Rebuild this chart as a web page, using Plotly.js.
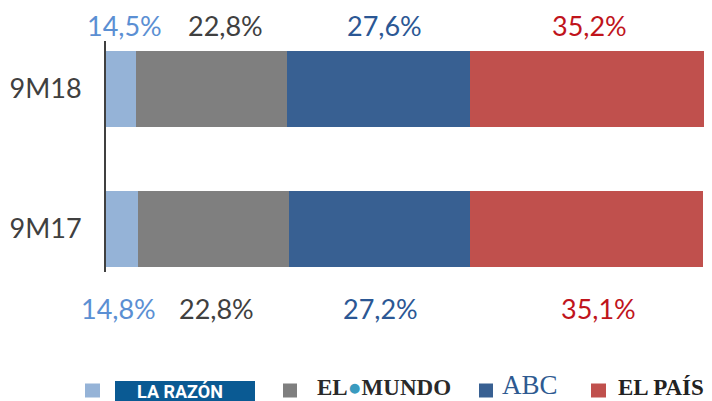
<!DOCTYPE html>
<html>
<head>
<meta charset="utf-8">
<script src="https://cdn.plot.ly/plotly-3.0.1.min.js"></script>
<style>html,body{margin:0;padding:0;background:#fff;}#chart{width:712px;height:401px;}</style>
</head>
<body>
<div id="chart"></div>
<script>
// Data
const periods = ['9M17', '9M18'];
const seriesNames = ['LA RAZÓN', 'EL MUNDO', 'ABC', 'EL PAÍS'];
const laRazon = [14.8, 14.5];
const elMundo = [22.8, 22.8];
const abc = [27.2, 27.6];
const elPais = [35.1, 35.2];
const labels9M17 = ['14,8%', '22,8%', '27,2%', '35,1%'];
const labels9M18 = ['14,5%', '22,8%', '27,6%', '35,2%'];

const series = [laRazon, elMundo, abc, elPais];
const barColors = ['#95B3D7', '#7F7F7F', '#386092', '#C0504D'];
const textColors = ['#5B8FD3', '#404040', '#2B5794', '#C0141B'];
const FONT = 'Lato, "Open Sans", sans-serif';
const X_MIN = 10;

const traces = series.map((vals, i) => ({
  type: 'bar', orientation: 'h', name: seriesNames[i],
  y: periods, x: vals,
  marker: {color: barColors[i], line: {width: 0}},
  width: 0.543, hoverinfo: 'x+name', showlegend: false
}));

// plot area in pixels
const L = 106, R = 704, T = 41, B = 272;
const px = x => (x - L) / (R - L);
const py = y => (B - y) / (B - T);

const annotations = [];
const shifts18 = [4, 14, 6, 2];
const shifts17 = [-3, 3, 1, 12];
function addLabels(pi, labels, shifts, yshift) {
  let cum = 0;
  series.forEach((vals, i) => {
    const start = Math.max(cum, X_MIN);
    cum += vals[pi];
    annotations.push({
      x: (start + cum) / 2,
      y: periods[pi], xref: 'x', yref: 'y',
      text: labels[i], showarrow: false, xshift: shifts[i], yshift: yshift,
      font: {family: FONT, size: 27, color: textColors[i]}
    });
  });
}
addLabels(1, labels9M18, shifts18, 64);
addLabels(0, labels9M17, shifts17, -79);

// legend
const legBottom = py(401);
const squares = [[85, 100], [283, 297], [479, 493], [591, 606]];
const shapes = squares.map((s, i) => ({
  type: 'rect', xref: 'paper', yref: 'paper',
  x0: px(s[0]), x1: px(s[1]), y0: py(397.5), y1: py(383.5),
  fillcolor: barColors[i], line: {width: 0}
}));
shapes.push({type: 'rect', xref: 'paper', yref: 'paper', x0: px(115), x1: px(255), y0: py(401), y1: py(381),
  fillcolor: '#0A5A93', line: {width: 0}});

annotations.push({xref: 'paper', yref: 'paper', x: px(180), y: py(391), xanchor: 'center', yanchor: 'middle',
  text: '<b>LA RAZÓN</b>', showarrow: false, borderpad: 0,
  font: {family: 'Roboto, "DejaVu Sans", sans-serif', size: 18, color: '#ffffff'}});
annotations.push({xref: 'paper', yref: 'paper', x: px(316), y: legBottom, xanchor: 'left', yanchor: 'bottom',
  text: '<b>EL<span style="color:#3A9BBF">●</span>MUNDO</b>', showarrow: false, borderpad: 0,
  font: {family: '"Liberation Serif", serif', size: 23, color: '#2a2a2a'}});
annotations.push({xref: 'paper', yref: 'paper', x: px(501), y: legBottom, xanchor: 'left', yanchor: 'bottom',
  text: 'ABC', showarrow: false, borderpad: 0,
  font: {family: '"Liberation Serif", serif', size: 27, color: '#2E5A91'}});
annotations.push({xref: 'paper', yref: 'paper', x: px(617), y: legBottom, xanchor: 'left', yanchor: 'bottom',
  text: '<b>EL PAÍS</b>', showarrow: false, borderpad: 0,
  font: {family: '"Liberation Serif", serif', size: 23, color: '#222222'}});

const layout = {
  width: 712, height: 401,
  margin: {l: L, r: 712 - R, t: T, b: 401 - B, pad: 0},
  paper_bgcolor: '#ffffff', plot_bgcolor: '#ffffff',
  barmode: 'stack', bargap: 0,
  showlegend: false,
  xaxis: {range: [X_MIN, 100.1], visible: false, fixedrange: true},
  yaxis: {
    type: 'category', range: [-0.307, 1.343],
    showline: true, linecolor: '#404040', linewidth: 2,
    showgrid: false, zeroline: false, ticks: '',
    ticklabelstandoff: 17,
    tickfont: {family: FONT, size: 27, color: '#404040'}
  },
  annotations: annotations, shapes: shapes
};

Plotly.newPlot('chart', traces, layout, {displayModeBar: false, staticPlot: true});
</script>
</body>
</html>
